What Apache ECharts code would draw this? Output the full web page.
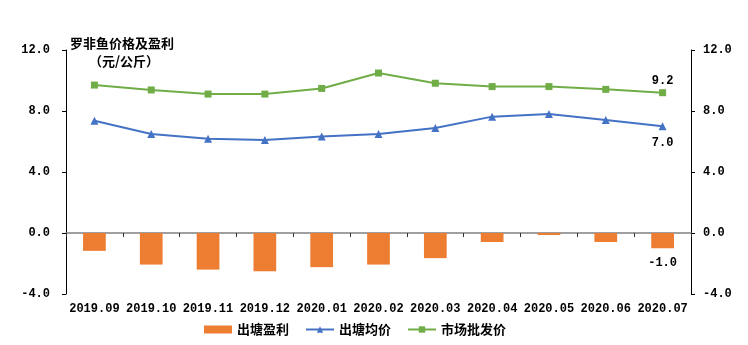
<!DOCTYPE html>
<html><head><meta charset="utf-8">
<script src="https://cdn.jsdelivr.net/npm/echarts@6/dist/echarts.min.js"></script>
<style>html,body{margin:0;padding:0;background:#fff}#c{width:748px;height:345px}</style>
</head><body><div id="c"></div>
<script>
var categories = ['2019.09','2019.10','2019.11','2019.12','2020.01','2020.02','2020.03','2020.04','2020.05','2020.06','2020.07'];
var profit = [-1.17,-2.07,-2.40,-2.51,-2.24,-2.07,-1.65,-0.59,-0.13,-0.59,-1.0];
var pondPrice = [7.36,6.49,6.18,6.10,6.32,6.49,6.89,7.63,7.80,7.41,7.0];
var wholesale = [9.70,9.38,9.11,9.11,9.48,10.49,9.82,9.60,9.60,9.42,9.2];
var yTicks = [-4,0,4,8,12];

var FONT = "'Liberation Mono','Noto Sans CJK SC',monospace";
var CJK = "'Noto Sans CJK SC',sans-serif";
var chart = echarts.init(document.getElementById('c'), null, {renderer:'canvas'});
function lastLabel(arr, pos, dy){
  return arr.map(function(v,i){
    if(i===arr.length-1) return {value:v,label:{show:true,position:pos,offset:[0,dy],formatter:function(p){return p.value.toFixed(1);},fontFamily:FONT,fontWeight:'bold',fontSize:12,color:'#000'}};
    return v;
  });
}
var yCommon = {
  type:'value', min:yTicks[0], max:yTicks[yTicks.length-1], interval:4,
  splitLine:{show:false},
  axisLine:{show:true,lineStyle:{color:'#000',width:1}},
  axisTick:{show:true,length:4,lineStyle:{color:'#000'}},
  axisLabel:{fontFamily:FONT,fontWeight:'bold',fontSize:12,color:'#000',formatter:function(v){return v.toFixed(1);}}
};
chart.setOption({
  animation:false,
  grid:{left:66,right:57,top:50,bottom:51},
  graphic:[
    {type:'text',left:70,top:37,style:{text:'罗非鱼价格及盈利',font:'bold 13px '+CJK,fill:'#000'}},
    {type:'text',left:89,top:55,style:{text:'（元/公斤）',font:'bold 13px '+CJK,fill:'#000'}}
  ],
  legend:{
    left:199, top:318, itemWidth:28, itemHeight:8, itemGap:16,
    textStyle:{fontFamily:CJK,fontWeight:'bold',fontSize:13,color:'#000'},
    data:[{name:'出塘盈利',icon:'rect'},{name:'出塘均价'},{name:'市场批发价'}]
  },
  xAxis:[
    {type:'category',data:categories,position:'bottom',
     axisLine:{show:false,onZero:false},axisTick:{show:false},
     axisLabel:{fontFamily:FONT,fontWeight:'bold',fontSize:12,color:'#000',margin:9,interval:0}},
    {type:'category',data:categories,position:'bottom',
     axisLine:{show:true,onZero:true,onZeroAxisIndex:0,lineStyle:{color:'#808080',width:1.5}},
     axisTick:{show:true,length:4,lineStyle:{color:'#333'}},
     axisLabel:{show:false}}
  ],
  yAxis:[
    Object.assign({}, yCommon, {position:'left', axisLabel:Object.assign({},yCommon.axisLabel,{margin:16})}),
    Object.assign({}, yCommon, {position:'right', axisLabel:Object.assign({},yCommon.axisLabel,{margin:12})})
  ],
  series:[
    {name:'出塘盈利',type:'bar',xAxisIndex:0,yAxisIndex:0,barWidth:'40%',itemStyle:{color:'#ED7D31'},data:lastLabel(profit,'bottom',4)},
    {name:'出塘均价',type:'line',xAxisIndex:0,yAxisIndex:0,symbol:'triangle',symbolSize:8,lineStyle:{color:'#4472C4',width:2},itemStyle:{color:'#4472C4'},data:lastLabel(pondPrice,'bottom',2)},
    {name:'市场批发价',type:'line',xAxisIndex:0,yAxisIndex:0,symbol:'rect',symbolSize:7,lineStyle:{color:'#70AD47',width:2},itemStyle:{color:'#70AD47'},data:lastLabel(wholesale,'top',3)}
  ]
});
</script></body></html>
